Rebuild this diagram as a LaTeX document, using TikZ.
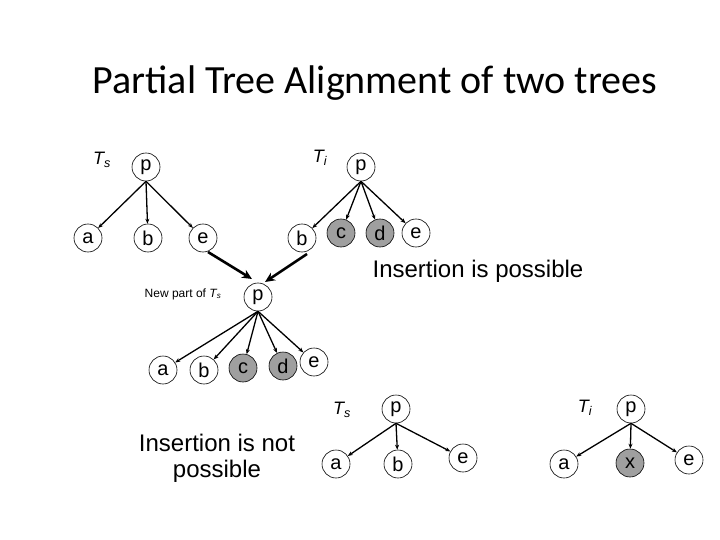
\documentclass[tikz,border=0pt]{standalone}
\usepackage{fontspec}
\usetikzlibrary{arrows.meta}
\setmainfont{Liberation Sans}
\newfontfamily\titlefont{Carlito}
\begin{document}
\begin{tikzpicture}[x=1pt,y=-1pt,
 nd/.style={circle,draw,line width=0.6pt,minimum size=28pt,inner sep=0pt,font=\fontsize{20}{20}\selectfont},
 gr/.style={nd,fill=gray!75},
 ed/.style={line width=1.3pt,-{Stealth[length=5pt,width=4pt]}},
 big/.style={line width=2.6pt,-{Stealth[length=10pt,width=9pt]}},
 lab/.style={font=\fontsize{18}{18}\selectfont\itshape}]
\useasboundingbox (0,0) rectangle (720,540);
\node[font=\titlefont\fontsize{40}{40}\selectfont] (title) at (375,83) {Partial Tree Alignment of two trees};
% top left
\node[lab] (ts1) at (102,160) {T\textsubscript{s}};
\node[nd] (p1) at (146,167) {p};
\node[nd] (a1) at (88,238) {a};
\node[nd] (b1) at (148,238) {b};
\node[nd] (e1) at (203,238) {e};
\foreach \c in {a1,b1,e1} \draw[ed] (p1.south) -- (\c);
% top right
\node[lab] (ti1) at (320,158) {T\textsubscript{i}};
\node[nd] (p2) at (361,167) {p};
\node[nd] (b2) at (302,238) {b};
\node[gr] (c2) at (341,233) {c};
\node[gr] (d2) at (380,233) {d};
\node[nd] (e2) at (416,233) {e};
\foreach \c in {b2,c2,d2,e2} \draw[ed] (p2.south) -- (\c);
% big arrows
\coordinate (s1) at (208,252); \coordinate (t1) at (252,279);
\coordinate (s2) at (307,254); \coordinate (t2) at (265,282);
\draw[big] (s1) -- (t1);
\draw[big] (s2) -- (t2);
\node[font=\fontsize{24}{24}\selectfont] (ip) at (478,271) {Insertion is possible};
\node[font=\fontsize{12}{12}\selectfont] (np) at (183,294) {New part of \textit{T\textsubscript{s}}};
% middle
\node[nd] (p3) at (258,297) {p};
\node[nd] (a3) at (163,370) {a};
\node[nd] (b3) at (204,370) {b};
\node[gr] (c3) at (243,368) {c};
\node[gr] (d3) at (283,366) {d};
\node[nd] (e3) at (314,362) {e};
\foreach \c in {a3,b3,c3,d3,e3} \draw[ed] (p3.south) -- (\c);
% bottom
\node[font=\fontsize{24}{26}\selectfont,align=center] (inp) at (217,458) {Insertion is not\\possible};
\node[lab] (ts2) at (342,410) {T\textsubscript{s}};
\node[nd] (p4) at (396,409) {p};
\node[nd] (a4) at (336,464) {a};
\node[nd] (b4) at (398,464) {b};
\node[nd] (e4) at (463,458) {e};
\foreach \c in {a4,b4,e4} \draw[ed] (p4.south) -- (\c);
\node[lab] (ti2) at (585,408) {T\textsubscript{i}};
\node[nd] (p5) at (631,409) {p};
\node[nd] (a5) at (564,464) {a};
\node[gr] (x5) at (630,463) {x};
\node[nd] (e5) at (689,460) {e};
\foreach \c in {a5,x5,e5} \draw[ed] (p5.south) -- (\c);
\end{tikzpicture}
\end{document}
